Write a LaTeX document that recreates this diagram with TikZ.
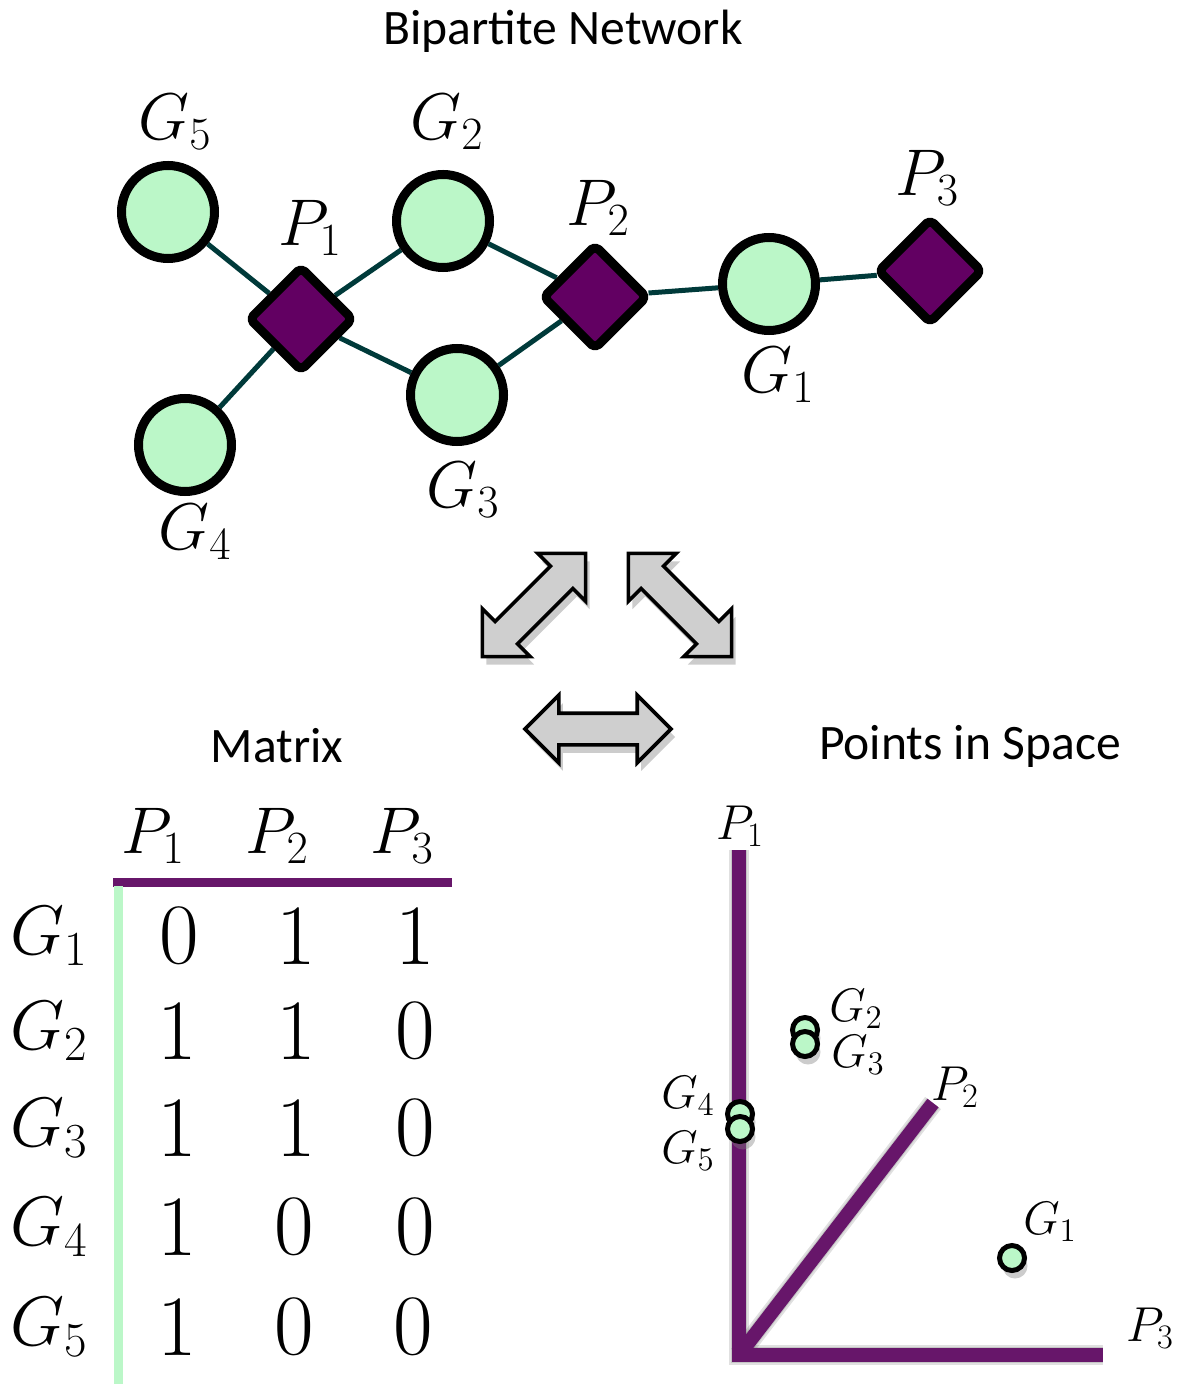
\documentclass[tikz,border=0pt]{standalone}
\usepackage{fix-cm}
\usepackage{fontspec}
\newfontfamily\calibrifont{Carlito}
\usetikzlibrary{shapes.geometric, shapes.arrows, shadows, positioning, backgrounds}
\definecolor{genefill}{HTML}{BBF7C8}
\definecolor{protfill}{HTML}{620062}
\definecolor{edgeteal}{HTML}{003A3A}
\definecolor{axispurple}{HTML}{67166A}
\definecolor{arrowgray}{HTML}{CFCFCF}

\begin{document}
\begin{tikzpicture}[
    x=0.5pt, y=-0.5pt,
    gnode/.style={
        circle, draw=black, line width=4.5pt, fill=genefill,
        minimum size=46.5pt, inner sep=0pt
    },
    pnode/.style={
        diamond, draw=black, line width=4.5pt, fill=protfill,
        minimum width=53pt, minimum height=53pt, inner sep=0pt,
        rounded corners=2.5pt, line join=round
    },
    link/.style={draw=edgeteal, line width=2.5pt},
    netlabel/.style={font=\fontsize{33}{37}\selectfont, inner sep=0pt},
    title/.style={font=\calibrifont\fontsize{24.8}{29}\selectfont, inner sep=0pt},
    bigarrow/.style={
        double arrow, draw=black, line width=1.8pt, fill=arrowgray,
        minimum height=73pt, inner sep=7pt, double arrow head extend=9pt,
        drop shadow={opacity=0.4, shadow xshift=2pt, shadow yshift=-4pt}
    },
    colhead/.style={font=\fontsize{33}{37}\selectfont, inner sep=0pt},
    rowhead/.style={font=\fontsize{35}{39}\selectfont, inner sep=0pt},
    cell/.style={font=\fontsize{43}{47}\selectfont, inner sep=0pt},
    axis/.style={draw=axispurple, line width=7pt},
    axisshadow/.style={draw=black, line width=10pt, opacity=0.12},
    spot/.style={
        circle, draw=black, line width=2.5pt, fill=genefill,
        minimum size=12.5pt, inner sep=0pt,
        drop shadow={opacity=0.4, shadow xshift=1.5pt, shadow yshift=-4pt}
    },
    axislabel/.style={font=\fontsize{24.5}{28}\selectfont, inner sep=0pt},
    spotlabel/.style={font=\fontsize{23.5}{27}\selectfont, inner sep=0pt},
]
\useasboundingbox (0,0) rectangle (1180,1384);

%% ============ BIPARTITE NETWORK ============
\node[title] (nettitle) at (563,31) {Bipartite Network};

\node[gnode] (G5) at (168,212) {};
\node[gnode] (G2) at (443,221) {};
\node[gnode] (G3) at (457,395) {};
\node[gnode] (G4) at (185,445) {};
\node[gnode] (G1) at (769,284) {};

\node[pnode] (P1) at (301,319) {};
\node[pnode] (P2) at (595,297) {};
\node[pnode] (P3) at (930,271) {};

\begin{scope}[on background layer]
    \draw[link] (G5) -- (P1);
    \draw[link] (G4) -- (P1);
    \draw[link] (G2) -- (P1);
    \draw[link] (G3) -- (P1);
    \draw[link] (G2) -- (P2);
    \draw[link] (G3) -- (P2);
    \draw[link] (G1) -- (P2);
    \draw[link] (G1) -- (P3);
\end{scope}

\node[netlabel] (lG5) at (175,122) {$G_5$};
\node[netlabel] (lG2) at (447,122) {$G_2$};
\node[netlabel] (lP1) at (310,228) {$P_1$};
\node[netlabel] (lG3) at (463,490) {$G_3$};
\node[netlabel] (lG4) at (195,532) {$G_4$};
\node[netlabel] (lP2) at (598,208) {$P_2$};
\node[netlabel] (lG1) at (778,375) {$G_1$};
\node[netlabel] (lP3) at (927,178) {$P_3$};

%% ============ TWO-WAY ARROWS ============
\node[bigarrow, rotate=45]  (netmat) at (534,605) {};
\node[bigarrow, rotate=-45] (netspace) at (680,605) {};
\node[bigarrow]             (matspace) at (598,729) {};

%% ============ MATRIX ============
\node[title] (mattitle) at (277,746) {Matrix};

\node[colhead] (hP1) at (153,836) {$P_1$};
\node[colhead] (hP2) at (277,836) {$P_2$};
\node[colhead] (hP3) at (402,836) {$P_3$};

\coordinate (ruleL) at (113,882);
\coordinate (ruleR) at (452,882);
\coordinate (barT) at (118,886);
\coordinate (barB) at (118,1384);
\draw[draw=axispurple, line width=4.5pt] (ruleL) -- (ruleR);
\draw[draw=genefill, line width=4.5pt] (barT) -- (barB);

\node[rowhead] (rG1) at (49,936)  {$G_1$};
\node[rowhead] (rG2) at (49,1031) {$G_2$};
\node[rowhead] (rG3) at (49,1128) {$G_3$};
\node[rowhead] (rG4) at (49,1227) {$G_4$};
\node[rowhead] (rG5) at (49,1327) {$G_5$};

\node[cell] (c11) at (179,936) {0};  \node[cell] (c12) at (296,936) {1};  \node[cell] (c13) at (415,936) {1};
\node[cell] (c21) at (177,1031) {1}; \node[cell] (c22) at (296,1031) {1}; \node[cell] (c23) at (415,1031) {0};
\node[cell] (c31) at (177,1128) {1}; \node[cell] (c32) at (296,1128) {1}; \node[cell] (c33) at (415,1128) {0};
\node[cell] (c41) at (177,1227) {1}; \node[cell] (c42) at (294,1227) {0}; \node[cell] (c43) at (415,1227) {0};
\node[cell] (c51) at (177,1327) {1}; \node[cell] (c52) at (294,1327) {0}; \node[cell] (c53) at (413,1327) {0};

%% ============ POINTS IN SPACE ============
\node[title] (spacetitle) at (970,746) {Points in Space};

\coordinate (origin) at (739,1355);
\coordinate (endP1) at (739,850);
\coordinate (endP2) at (933,1103);
\coordinate (endP3) at (1103,1355);

% soft shadow under the axes
\begin{scope}[shift={(5,10)}]
    \draw[axisshadow] (endP1) -- (origin) -- (endP3);
    \draw[axisshadow] (origin) -- (endP2);
\end{scope}
\begin{scope}[shift={(3,6)}]
    \draw[axisshadow, line width=8pt] (endP1) -- (origin) -- (endP3);
    \draw[axisshadow, line width=8pt] (origin) -- (endP2);
\end{scope}

\draw[axis] (endP1) -- (origin) -- (endP3);
\draw[axis] (origin) -- (endP2);

\node[axislabel] (aP1) at (740,826)  {$P_1$};
\node[axislabel] (aP2) at (955,1087) {$P_2$};
\node[axislabel] (aP3) at (1150,1328) {$P_3$};

\node[spot] (sG2) at (805,1030) {};
\node[spot] (sG3) at (805,1044) {};
\node[spot] (sG4) at (740,1114) {};
\node[spot] (sG5) at (740,1129) {};
\node[spot] (sG1) at (1012,1258) {};

\node[spotlabel] (tG2) at (856,1009) {$G_2$};
\node[spotlabel] (tG3) at (858,1055) {$G_3$};
\node[spotlabel] (tG4) at (688,1096) {$G_4$};
\node[spotlabel] (tG5) at (688,1151) {$G_5$};
\node[spotlabel] (tG1) at (1050,1222) {$G_1$};

\end{tikzpicture}
\end{document}
